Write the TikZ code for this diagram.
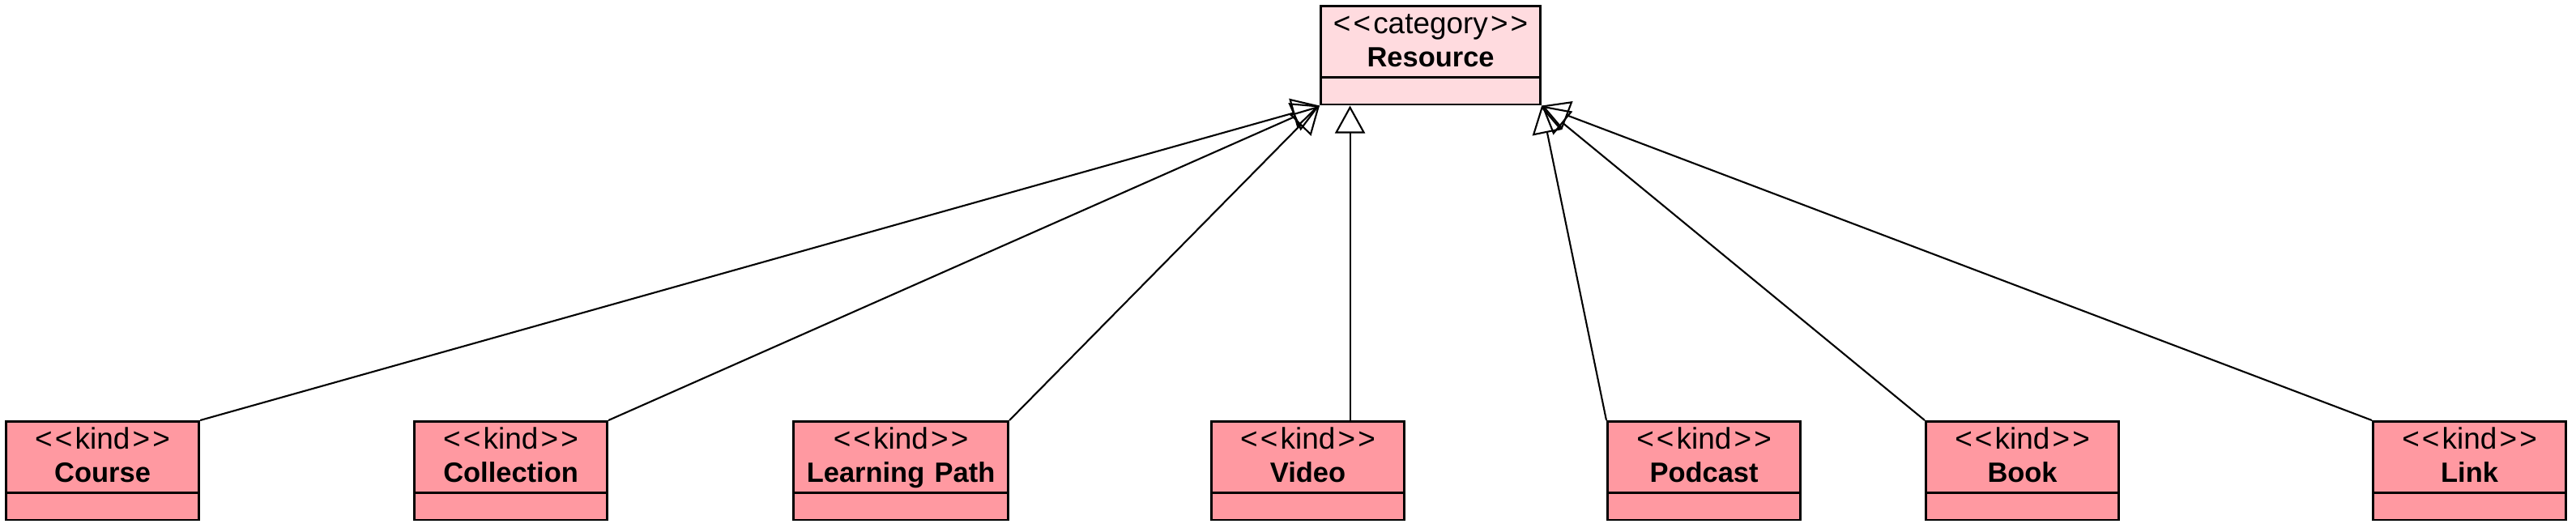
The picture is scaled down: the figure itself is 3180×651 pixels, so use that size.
\documentclass[tikz,border=0pt]{standalone}
\usepackage{fontspec}
\newfontfamily\umlfont{Liberation Sans}
\usepackage{tikz}
\usetikzlibrary{shapes.multipart, positioning, calc, arrows.meta}
\definecolor{kindcol}{RGB}{255,153,161}
\definecolor{catcol}{RGB}{255,219,223}
\newcommand{\stereo}[1]{<\kern0.9pt<\kern0.9pt#1\kern0.9pt>\kern0.9pt>}
\newcommand{\nome}[1]{{\fontsize{9.8}{11.65}\selectfont\bfseries #1}}
\newcommand{\supstrut}{\rule{0pt}{8.3pt}}
\newcommand{\infstrut}{\rule[-2.3pt]{0pt}{2.3pt}}
\tikzset{
    classe/.style={draw, line width=0.85pt, rectangle split, rectangle split parts=2,
        rectangle split empty part height=6.6pt, rectangle split empty part depth=0pt,
        align=center, inner xsep=0pt, inner ysep=1pt, anchor=north west,
        font=\umlfont\fontsize{10.5}{11.65}\selectfont},
    kindbox/.style={classe, fill=kindcol, text width=2.38cm},
    catbox/.style={classe, fill=catcol, text width=2.71cm, rectangle split empty part height=5.9pt},
    generalizza/.style={line width=0.6pt, -{Triangle[open, length=3.4mm, width=3.7mm]}},
}

\begin{document}
\begin{tikzpicture}[x=0.01cm, y=-0.01cm]
        \useasboundingbox (0,0) rectangle (3180,651);
        %classe generale
        \node (res) at (1629,6) [catbox] {\supstrut\stereo{category}\\\nome{Resource}\infstrut};
        
        %sottoclassi
        \node (course) at (6,519) [kindbox] {\supstrut\stereo{kind}\\\nome{Course}\infstrut};
        \node (coll) at (510,519) [kindbox] {\supstrut\stereo{kind}\\\nome{Collection}\infstrut};
        \node (path) at (978,519) [kindbox, text width=2.65cm] {\supstrut\stereo{kind}\\\nome{Learning Path}\infstrut};
        \node (video) at (1494,519) [kindbox] {\supstrut\stereo{kind}\\\nome{Video}\infstrut};
        \node (podcast) at (1983,519) [kindbox] {\supstrut\stereo{kind}\\\nome{Podcast}\infstrut};
        \node (book) at (2376,519) [kindbox] {\supstrut\stereo{kind}\\\nome{Book}\infstrut};
        \node (link) at (2928,519) [kindbox] {\supstrut\stereo{kind}\\\nome{Link}\infstrut};
        
        %generalizzazioni a sinistra
        \draw[generalizza] (course.north east) -- (res.south west);
        \draw[generalizza] (coll.north east) -- (res.south west);
        \draw[generalizza] (path.north east) -- (res.south west);
        %----
        \coordinate (vidtop) at ($(video.north)+(52,0)$);
        \draw[generalizza] (vidtop) -- (vidtop |- res.south);
        %generalizzazioni a destra
        \draw[generalizza] (podcast.north west) -- (res.south east);
        \draw[generalizza] (book.north west) -- (res.south east);
        \draw[generalizza] (link.north west) -- (res.south east);
\end{tikzpicture}
\end{document}
